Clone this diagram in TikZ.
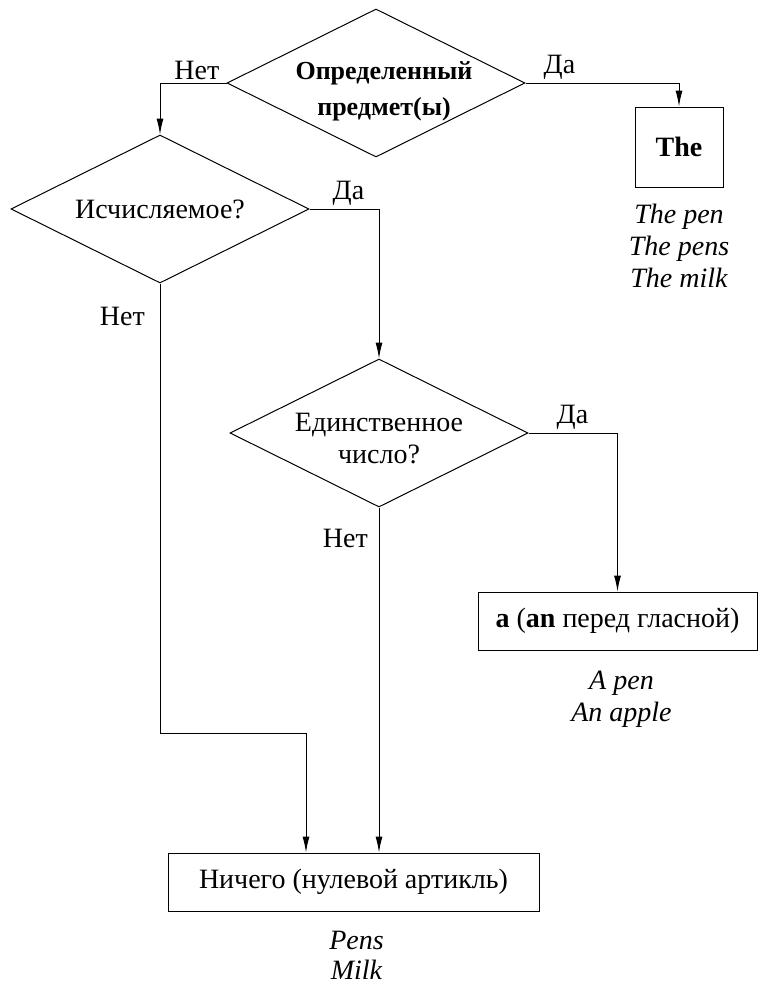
\documentclass[tikz,border=0pt]{standalone}
\usepackage{fontspec}
\setmainfont{Liberation Serif}
\usetikzlibrary{shapes.geometric, arrows.meta}
\usetikzlibrary{positioning}

\begin{document}
\begin{tikzpicture}[
    x=1pt, y=-1pt,
    font=\fontsize{28}{32}\selectfont,
    decision/.style={diamond,draw,line width=1pt,minimum width=298pt,minimum height=148pt,inner sep=0pt},
    answer/.style={rectangle,draw,line width=1pt,inner sep=0pt,align=center},
    flow/.style={-{Latex[length=16pt,width=7pt]}, line width=1pt},
    lbl/.style={inner sep=3pt},
    example/.style={align=center,font=\fontsize{28}{32}\selectfont\itshape,inner sep=3pt}
]

\useasboundingbox (0,0) rectangle (760,985);

\node[decision, label={[align=center, xshift=8pt, yshift=-8pt, font=\fontsize{26}{36}\selectfont\bfseries]center:Определенный\\предмет(ы)}] (definite) at (376,83) {};
\node[decision, label={center:Исчисляемое?}] (countable) at (160,209) {};
\node[decision, label={[align=center, yshift=-6pt]center:Единственное\\число?}] (singular) at (379,433) {};

\node[answer, minimum width=88pt, minimum height=80pt, font=\fontsize{28}{32}\selectfont\bfseries] (the) at (679,147) {The};
\node[answer, minimum width=279pt, minimum height=58pt] (a_an) at (617.5,621) {\textbf{a} (\textbf{an} перед гласной)};
\node[answer, minimum width=371pt, minimum height=58pt] (zero) at (353.5,882) {Ничего (нулевой артикль)};

\node[example, below=13pt of the] (the_ex) {The pen\\The pens\\The milk};
\node[example, below=17pt of a_an, xshift=4pt] (a_ex) {A pen\\An apple};
\node[example, below=16pt of zero, xshift=3pt, font=\fontsize{28}{30}\selectfont\itshape] (zero_ex) {Pens\\Milk};

\draw[flow] (definite.west) -| (countable.north);
\draw[flow] (definite.east) -| (the.north);
\draw[flow] (countable.east) -| (singular.north);
\coordinate (join) at (306,733);
\draw[flow] (countable.south) |- (join) -- (join |- zero.north);
\draw[flow] (singular.east) -| (a_an.north);
\draw[flow] (singular.south) -- (singular.south |- zero.north);

\node[lbl, above left=0pt and 4pt of definite.west] (def_no) {Нет};
\node[lbl, above right=0pt and 15pt of definite.east] (def_yes) {Да};
\node[lbl, above right=0pt and 20pt of countable.east] (count_yes) {Да};
\node[lbl, below left=20pt and 12pt of countable.south] (count_no) {Нет};
\node[lbl, above right=0pt and 25pt of singular.east] (sing_yes) {Да};
\node[lbl, below left=18pt and 8pt of singular.south] (sing_no) {Нет};

\end{tikzpicture}
\end{document}
